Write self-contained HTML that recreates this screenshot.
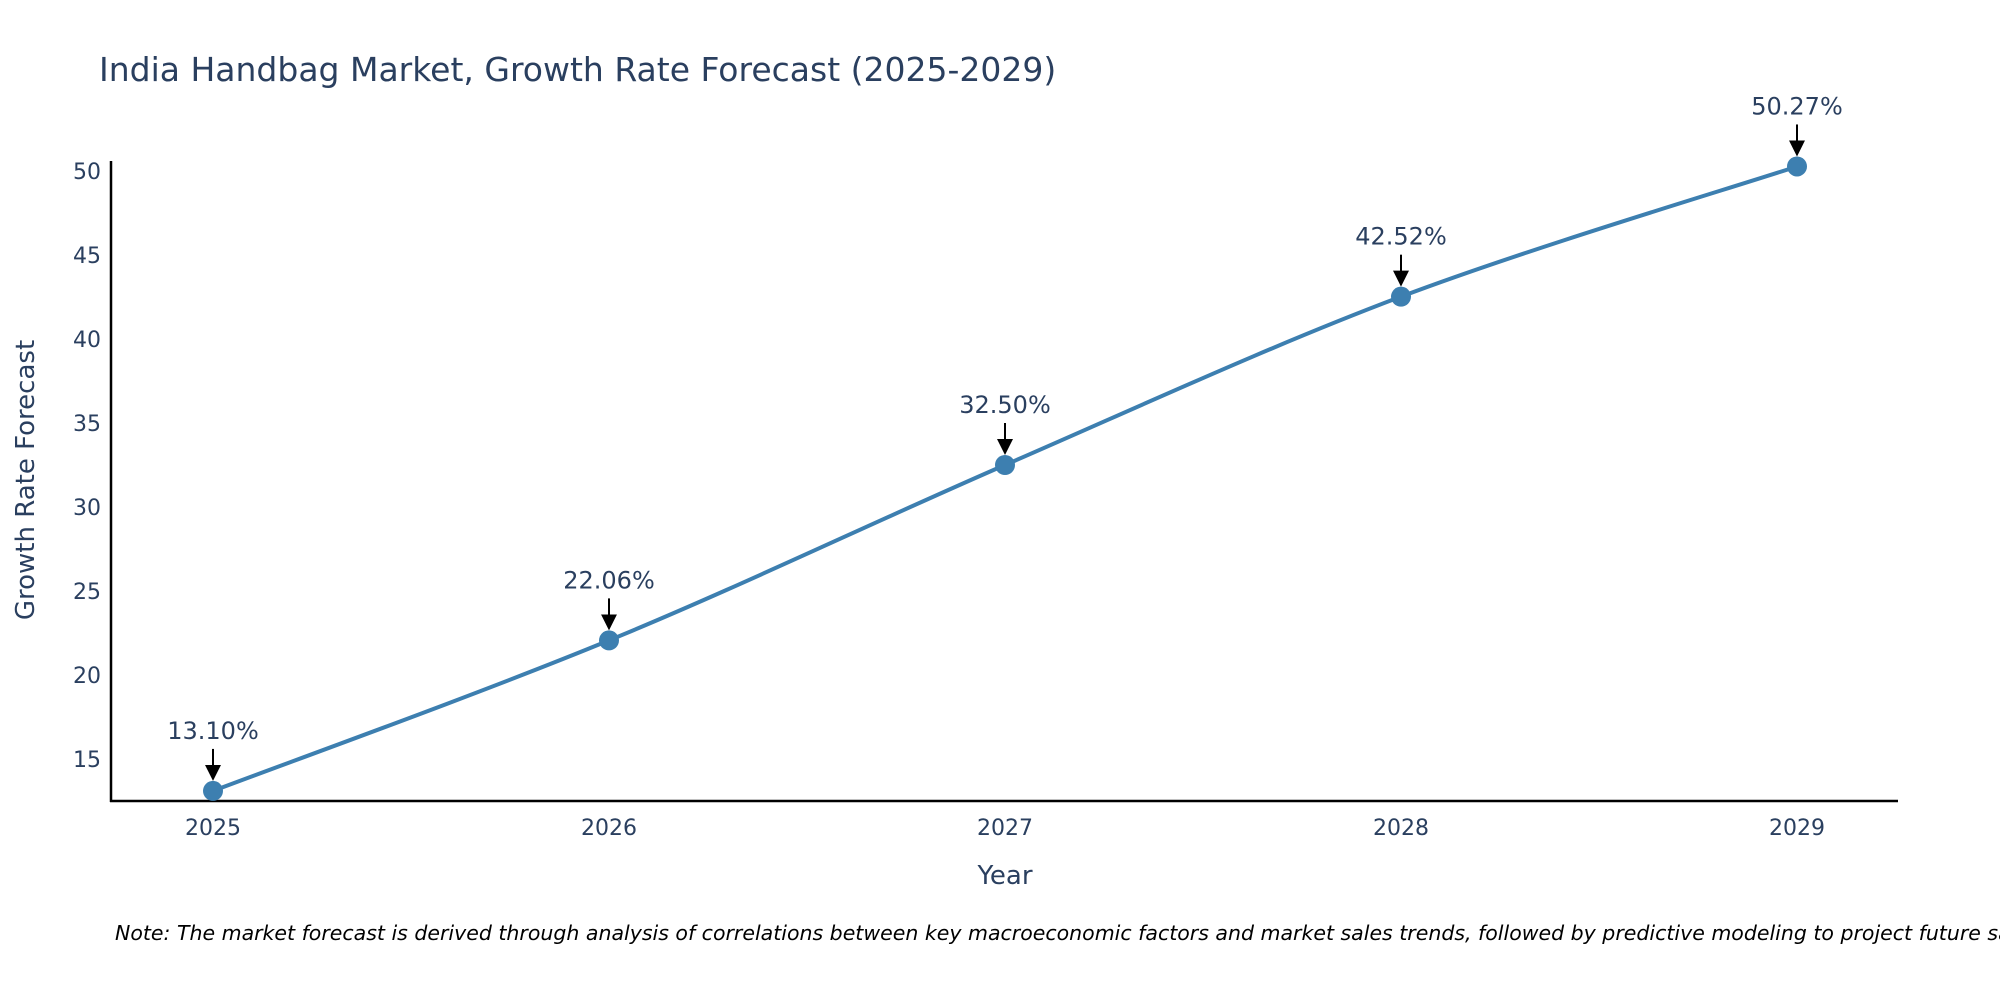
<!DOCTYPE html>
<html><head><meta charset="utf-8"><style>
body{margin:0;background:#fff;}
svg text{font-family:"DejaVu Sans","Liberation Sans",sans-serif;fill:#2a3f5f;}
</style></head><body>
<svg id="chart" width="2000" height="1000" xmlns="http://www.w3.org/2000/svg">
<text x="99" y="81" font-size="33">India Handbag Market, Growth Rate Forecast (2025-2029)</text>
<g id="plot"></g>
<text transform="translate(34,480) rotate(-90)" text-anchor="middle" font-size="26">Growth Rate Forecast</text>
<text x="1005" y="884" text-anchor="middle" font-size="26">Year</text>
<text x="115" y="940" font-size="20.5" font-style="italic" style="fill:#000">Note: The market forecast is derived through analysis of correlations between key macroeconomic factors and market sales trends, followed by predictive modeling to project future sales</text>
</svg>
<script>
const years=[2025,2026,2027,2028,2029];
const values=[13.10,22.06,32.50,42.52,50.27];
const valueLabels=["13.10%","22.06%","32.50%","42.52%","50.27%"];
const yTicks=[15,20,25,30,35,40,45,50];
const NS="http://www.w3.org/2000/svg";
const g=document.getElementById('plot');
const xs=y=>213+(y-2025)*396;
const ys=v=>759-(v-15)*(588/35);
function mk(t,a,p){const e=document.createElementNS(NS,t);for(const k in a)e.setAttribute(k,a[k]);(p||g).appendChild(e);return e;}
const defs=mk('defs',{});
const m=mk('marker',{id:'ah',markerWidth:'16',markerHeight:'16',refX:'2',refY:'8',orient:'auto',markerUnits:'userSpaceOnUse'},defs);
mk('path',{d:'M0,0 L16,8 L0,16 z',fill:'#000'},m);
const ya=mk('line',{x1:111,y1:161,x2:111,y2:802,stroke:'#000','stroke-width':2.5});

const xa=mk('line',{x1:110,y1:801,x2:1898,y2:801,stroke:'#000','stroke-width':2.5});

yTicks.forEach(v=>{const t=mk('text',{x:101,y:ys(v)+8,'text-anchor':'end','font-size':22});t.textContent=v;
});
years.forEach(y=>{const t=mk('text',{x:xs(y),y:835,'text-anchor':'middle','font-size':22});t.textContent=y;
});
const P=years.map((y,i)=>[xs(y),ys(values[i])]);
let d='M'+P[0][0]+','+P[0][1];
for(let i=0;i<P.length-1;i++){const p0=P[i-1]||P[i],p1=P[i],p2=P[i+1],p3=P[i+2]||P[i+1];const s=1/6;
d+=` C${p1[0]+(p2[0]-p0[0])*s},${p1[1]+(p2[1]-p0[1])*s} ${p2[0]-(p3[0]-p1[0])*s},${p2[1]-(p3[1]-p1[1])*s} ${p2[0]},${p2[1]}`;}
const ln=mk('path',{d:d,fill:'none',stroke:'#3d7fb0','stroke-width':4});

P.forEach((p,i)=>{const c=mk('circle',{cx:p[0],cy:p[1],r:10,fill:'#3d7fb0'});

const a=mk('line',{x1:p[0],y1:p[1]-42,x2:p[0],y2:p[1]-24,stroke:'#000','stroke-width':2,'marker-end':'url(#ah)'});

const t=mk('text',{x:p[0],y:p[1]-52,'text-anchor':'middle','font-size':24});t.textContent=valueLabels[i];
});
</script>
</body></html>
